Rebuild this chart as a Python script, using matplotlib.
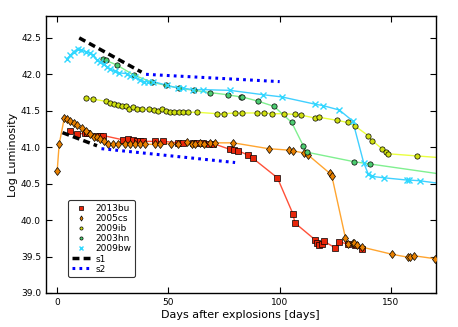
import numpy as np
import matplotlib
matplotlib.use('Agg')
import matplotlib.pyplot as plt

# light curves (days after explosion, log L)
d_13bu = [5.8, 9.1, 12.6, 13.6, 17.5, 19.3, 20.8, 29.8, 32, 34.3, 35.8, 37.3, 38.8, 44, 47.8,
          54.5, 56.7, 61, 62.8, 65.5, 68.2, 70.2, 77.7, 79.5, 81.4, 86, 87.9, 99, 105.9, 106.9,
          115.9, 116.7, 117.8, 118.9, 119.9, 124.9, 126.8, 130.9, 133.9, 136.9]
L_13bu = [41.22, 41.18, 41.19, 41.19, 41.15, 41.16, 41.16, 41.10, 41.11, 41.10, 41.09, 41.09, 41.08,
          41.08, 41.08, 41.06, 41.06, 41.06, 41.06, 41.06, 41.05, 41.05, 40.97, 40.96, 40.95, 40.89,
          40.85, 40.58, 40.09, 39.96, 39.73, 39.68, 39.66, 39.67, 39.71, 39.62, 39.70, 39.67, 39.66, 39.60]

d_05cs = [0.1, 1, 3.3, 4.4, 5.8, 7.6, 9.1, 11.1, 13, 14.8, 16.6, 17.8, 19.3, 21.2, 22.8, 25, 27.5,
          30.5, 32.8, 35, 37.3, 39.5, 44, 46.3, 51, 54.5, 58.3, 60.5, 62, 64.2, 66.2, 68.7, 71, 79.2,
          95, 104.2, 106, 111.1, 112.9, 122.6, 123.4, 129.5, 130.6, 132.8, 133.6, 134.6, 136.9,
          150.6, 157.8, 158.6, 160.5, 169.8]
L_05cs = [40.67, 41.04, 41.40, 41.39, 41.36, 41.33, 41.30, 41.26, 41.22, 41.18, 41.14, 41.14, 41.11,
          41.08, 41.05, 41.05, 41.04, 41.05, 41.04, 41.05, 41.04, 41.04, 41.04, 41.05, 41.05, 41.05,
          41.07, 41.05, 41.05, 41.06, 41.05, 41.06, 41.06, 41.06, 40.98, 40.96, 40.95, 40.92, 40.89,
          40.64, 40.61, 39.76, 39.67, 39.69, 39.68, 39.66, 39.63, 39.53, 39.49, 39.49, 39.51, 39.47]

d_09ib = [13, 16, 22, 23.8, 25.6, 27.5, 29, 31, 32.3, 34.3, 36.1, 38, 41.5, 43.8, 45.2, 47, 48.8,
          50.8, 52.7, 54.8, 56.7, 58.8, 62.8, 71.8, 75, 79.8, 83, 90, 93, 96.7, 102, 107, 109.6,
          116, 117.8, 125.6, 130.5, 133.9, 139.7, 141.6, 145.9, 147.7, 148.8, 161.8, 175]
L_09ib = [41.68, 41.66, 41.63, 41.60, 41.59, 41.58, 41.56, 41.57, 41.53, 41.55, 41.52, 41.52, 41.52,
          41.51, 41.50, 41.52, 41.50, 41.49, 41.49, 41.48, 41.48, 41.48, 41.48, 41.46, 41.46, 41.47,
          41.47, 41.47, 41.47, 41.46, 41.46, 41.45, 41.44, 41.40, 41.41, 41.37, 41.34, 41.29, 41.16,
          41.09, 40.98, 40.94, 40.91, 40.88, 40.85]

d_03hn = [20.8, 22, 26.8, 34.5, 42.8, 48.8, 54.8, 61.7, 68.7, 76.6, 82.5, 83.2, 90.5, 97.5, 105.4,
          110.6, 112.5, 133.6, 140.6, 175]
L_03hn = [42.21, 42.19, 42.13, 41.99, 41.89, 41.85, 41.81, 41.78, 41.75, 41.72, 41.69, 41.69, 41.63,
          41.56, 41.34, 41.02, 40.93, 40.80, 40.77, 40.62]

d_09bw = [4.4, 6, 7.5, 9.3, 11, 13, 14.8, 16, 17.8, 19.5, 21, 22.3, 24, 26, 28, 31.3, 33, 35, 37.3,
          39, 41, 43.3, 49.3, 54.5, 56.7, 61, 65.7, 77.7, 92.7, 101, 116, 119.6, 126.8, 132.8,
          137.7, 139.8, 141.4, 147, 157, 158, 162.8, 175]
L_09bw = [42.21, 42.26, 42.31, 42.35, 42.33, 42.31, 42.29, 42.26, 42.20, 42.17, 42.14, 42.10, 42.07,
          42.04, 42.02, 42.01, 41.98, 41.96, 41.92, 41.90, 41.90, 41.90, 41.85, 41.81, 41.81, 41.79,
          41.79, 41.78, 41.72, 41.69, 41.59, 41.57, 41.51, 41.36, 40.79, 40.63, 40.60, 40.58, 40.55,
          40.55, 40.54, 40.49]

# model segments
s1_d = [[10, 38], [2.5, 18]]
s1_L = [[42.50, 42.03], [41.20, 41.02]]
s2_d = [[40, 100], [20, 80]]
s2_L = [[42.00, 41.90], [40.98, 40.79]]

plt.rcParams['lines.scale_dashes'] = False
plt.rcParams['xtick.direction'] = 'in'
plt.rcParams['ytick.direction'] = 'in'
plt.rcParams['xtick.top'] = True
plt.rcParams['ytick.right'] = True

fig = plt.figure(figsize=(4.58, 3.27), dpi=100)
ax = fig.add_axes([0.100, 0.104, 0.851, 0.847])

sets = [
    ('2013bu', d_13bu, L_13bu, 's', '#e8260a', '#ff5038', 4.2),
    ('2005cs', d_05cs, L_05cs, 'd', '#e88000', '#ffa530', 4.4),
    ('2009ib', d_09ib, L_09ib, 'o', '#d0e010', '#eaff40', 3.8),
    ('2003hn', d_03hn, L_03hn, 'o', '#4ccc70', '#80f090', 3.8),
    ('2009bw', d_09bw, L_09bw, 'x', '#30d8ff', '#40d0ff', 3.8),
]
for name, d, L, m, mc, lc, ms in sets:
    ax.plot(d, L, '-', color=lc, lw=1.0, zorder=2)
    if m == 'x':
        ax.plot(d, L, m, color=mc, ms=ms, mew=1.0, ls='none', label=name, zorder=3)
    else:
        ax.plot(d, L, m, mfc=mc, mec='k', mew=0.5, ms=ms, ls='none', label=name, zorder=3)

for i in range(2):
    ax.plot(s1_d[i], s1_L[i], color='k', lw=2.5, dashes=(5, 3),
            label='s1' if i == 0 else None, zorder=4)
for i in range(2):
    ax.plot(s2_d[i], s2_L[i], color='b', lw=2.2, dashes=(2, 3),
            label='s2' if i == 0 else None, zorder=4)

ax.set_xlim(-5, 170)
ax.set_ylim(39.0, 42.8)
ax.set_xticks([0, 50, 100, 150])
ax.set_yticks(np.arange(39.0, 42.6, 0.5))
ax.set_yticklabels(['%.1f' % v for v in np.arange(39.0, 42.6, 0.5)])
ax.tick_params(labelsize=6.5, length=4, width=0.8)
for sp in ax.spines.values():
    sp.set_linewidth(1.0)

ax.set_xlabel('Days after explosions [days]', fontsize=8, labelpad=2)
ax.set_ylabel('Log Luminosity', fontsize=8, labelpad=2)

leg = ax.legend(loc='lower left', bbox_to_anchor=(0.058, 0.057), borderaxespad=0,
                numpoints=1, fontsize=6.5, markerscale=0.6, handlelength=2.0,
                labelspacing=0.12, handletextpad=0.6, fancybox=True, framealpha=1)
leg.get_frame().set_edgecolor('#333333')
leg.get_frame().set_linewidth(0.8)

plt.savefig('out.png', dpi=100)
